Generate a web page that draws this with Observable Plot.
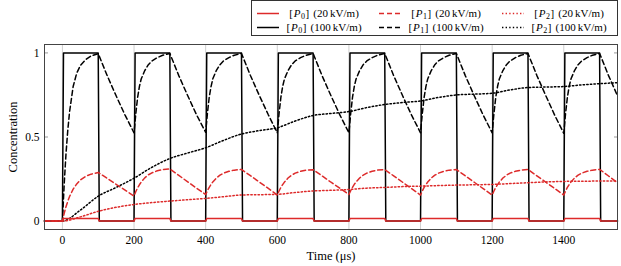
<!DOCTYPE html>
<html>
<head>
<meta charset="utf-8">
<script src="https://cdn.jsdelivr.net/npm/d3@7"></script>
<script src="https://cdn.jsdelivr.net/npm/@observablehq/plot@0.6"></script>
<style>
  html, body { margin: 0; padding: 0; background: #fff; }
  #wrap { position: relative; width: 621px; height: 266px; overflow: hidden; font-family: "Liberation Serif", serif; }
  #chart { position: absolute; left: 0; top: 0; }
  #chart svg, #chart svg text { font-family: "Liberation Serif", serif !important; }
  #chart g[aria-label$="axis label"] text { font-size: 12.5px; }
  #legend { position: absolute; left: 251px; top: 0px; width: 365px; height: 34px; border: 1px solid #333; background: #fff; font-size: 11px; color: #000; }
  .item { position: absolute; white-space: nowrap; line-height: 12px; height: 12px; }
  .item svg { position: absolute; left: 0; top: 0; }
  .txt { position: absolute; top: 0; width: 80px; text-align: center; }
  .txt i { padding: 0 0.5px 0 1px; }
  .txt sub { font-size: 8px; vertical-align: -2px; line-height: 0; }
  .txt .br { padding-left: 0.5px; margin-right: 4px; }
</style>
</head>
<body>
<div id="wrap">
  <div id="chart"></div>
  <div id="legend"></div>
</div>
<script>
// ---- data ----
const xTicks = [0, 200, 400, 600, 800, 1000, 1200, 1400];
const yTicks = [0, 0.5, 1];
const yTickLabels = ["0", "0.5", "1"];

// [P0] square pulses
const tP0 = [-50, 0, 3, 100, 103, 200, 203, 300, 303, 400, 403, 500, 503, 600, 603, 700, 703,
             800, 803, 900, 903, 1000, 1003, 1100, 1103, 1200, 1203, 1300, 1303, 1400, 1403, 1500, 1503, 1550];
const p0High = [0, 0, 1, 1, 0, 0, 1, 1, 0, 0, 1, 1, 0, 0, 1, 1, 0,
                0, 1, 1, 0, 0, 1, 1, 0, 0, 1, 1, 0, 0, 1, 1, 0, 0];
const p0Low = [0, 0, 0.015, 0.015, 0, 0, 0.015, 0.015, 0, 0, 0.015, 0.015, 0, 0, 0.015, 0.015, 0,
               0, 0.015, 0.015, 0, 0, 0.015, 0.015, 0, 0, 0.015, 0.015, 0, 0, 0.015, 0.015, 0, 0];

// [P1]
const tP1 = [
  -50, 0, 5, 10, 15, 20, 30, 40, 50, 65, 80, 100, 125, 150, 175,
  200, 205, 210, 215, 220, 230, 240, 250, 265, 280, 300, 325, 350, 375,
  400, 405, 410, 415, 420, 430, 440, 450, 465, 480, 500, 525, 550, 575,
  600, 605, 610, 615, 620, 630, 640, 650, 665, 680, 700, 725, 750, 775,
  800, 805, 810, 815, 820, 830, 840, 850, 865, 880, 900, 925, 950, 975,
  1000, 1005, 1010, 1015, 1020, 1030, 1040, 1050, 1065, 1080, 1100, 1125, 1150, 1175,
  1200, 1205, 1210, 1215, 1220, 1230, 1240, 1250, 1265, 1280, 1300, 1325, 1350, 1375,
  1400, 1405, 1410, 1415, 1420, 1430, 1440, 1450, 1465, 1480, 1500, 1525, 1550
];
const p1High = [
  0, 0, 0.22, 0.40, 0.54, 0.65, 0.80, 0.88, 0.925, 0.96, 0.982, 0.996, 0.865, 0.745, 0.63,
  0.525, 0.64, 0.735, 0.80, 0.845, 0.895, 0.93, 0.952, 0.972, 0.986, 0.997, 0.865, 0.745, 0.63,
  0.528, 0.642, 0.737, 0.80, 0.846, 0.896, 0.93, 0.953, 0.972, 0.986, 0.997, 0.866, 0.746, 0.632,
  0.525, 0.64, 0.735, 0.80, 0.845, 0.895, 0.93, 0.952, 0.972, 0.986, 0.997, 0.865, 0.745, 0.63,
  0.525, 0.64, 0.735, 0.80, 0.845, 0.895, 0.93, 0.952, 0.972, 0.986, 0.997, 0.865, 0.745, 0.63,
  0.525, 0.64, 0.735, 0.80, 0.845, 0.895, 0.93, 0.952, 0.972, 0.986, 0.997, 0.865, 0.745, 0.63,
  0.525, 0.64, 0.735, 0.80, 0.845, 0.895, 0.93, 0.952, 0.972, 0.986, 0.997, 0.865, 0.745, 0.628,
  0.522, 0.64, 0.735, 0.80, 0.845, 0.895, 0.93, 0.952, 0.972, 0.986, 0.997, 0.865, 0.745
];
const p1Low = [
  0, 0, 0.046, 0.085, 0.118, 0.146, 0.19, 0.221, 0.244, 0.266, 0.279, 0.289, 0.254, 0.219, 0.184,
  0.149, 0.176, 0.198, 0.216, 0.232, 0.257, 0.275, 0.287, 0.299, 0.306, 0.31, 0.272, 0.233, 0.195,
  0.158, 0.181, 0.201, 0.218, 0.233, 0.256, 0.273, 0.285, 0.296, 0.303, 0.307, 0.27, 0.232, 0.194,
  0.155, 0.179, 0.2, 0.217, 0.232, 0.256, 0.273, 0.285, 0.296, 0.303, 0.306, 0.269, 0.231, 0.195,
  0.158, 0.181, 0.201, 0.218, 0.233, 0.256, 0.273, 0.285, 0.296, 0.303, 0.306, 0.269, 0.231, 0.193,
  0.155, 0.179, 0.2, 0.217, 0.232, 0.256, 0.273, 0.285, 0.296, 0.303, 0.307, 0.269, 0.231, 0.193,
  0.155, 0.179, 0.2, 0.217, 0.232, 0.256, 0.273, 0.285, 0.296, 0.303, 0.307, 0.269, 0.231, 0.193,
  0.155, 0.179, 0.2, 0.217, 0.232, 0.256, 0.273, 0.285, 0.296, 0.303, 0.308, 0.268, 0.228
];

// [P2]
const tP2 = [-50, 0, 50, 100, 150, 200, 250, 300, 350, 400, 450, 500, 550, 600, 650, 700, 750,
             800, 850, 900, 950, 1000, 1050, 1100, 1150, 1200, 1250, 1300, 1350, 1400, 1450, 1500, 1550];
const p2High = [0, 0, 0.065, 0.148, 0.20, 0.255, 0.32, 0.372, 0.405, 0.436, 0.48, 0.518, 0.538, 0.555, 0.595, 0.628, 0.64,
                0.651, 0.675, 0.693, 0.705, 0.714, 0.735, 0.75, 0.755, 0.76, 0.78, 0.794, 0.797, 0.80, 0.81, 0.817, 0.823];
const p2Low = [0, 0, 0.025, 0.058, 0.082, 0.099, 0.11, 0.119, 0.127, 0.135, 0.145, 0.155, 0.157, 0.159, 0.17, 0.179, 0.183,
               0.188, 0.196, 0.2, 0.205, 0.208, 0.211, 0.214, 0.216, 0.218, 0.223, 0.228, 0.233, 0.236, 0.237, 0.238, 0.238];

const seriesLabels = [
  {name: "0", field: "(20\u2009kV/m)"}, {name: "1", field: "(20\u2009kV/m)"}, {name: "2", field: "(20\u2009kV/m)"},
  {name: "0", field: "(100\u2009kV/m)"}, {name: "1", field: "(100\u2009kV/m)"}, {name: "2", field: "(100\u2009kV/m)"}
];

// ---- styles ----
const RED = "#dd2a2a";
const BLACK = "#000000";
const DASH = "5,3";
const DOT = "1.4,2.2";

const zip = (t, v) => t.map((x, i) => ({t: x, v: v[i]}));

const chart = Plot.plot({
  width: 621,
  height: 266,
  marginLeft: 44,
  marginRight: 4,
  marginTop: 44,
  marginBottom: 37,
  style: {fontFamily: "'Liberation Serif', serif", fontSize: "11.5px", background: "transparent", color: "#000"},
  x: {domain: [-50, 1550]},
  y: {domain: [-0.05, 1.05]},
  marks: [
    Plot.gridX(xTicks, {stroke: "#cfcfcf", strokeOpacity: 1, strokeWidth: 1}),
    Plot.axisX(xTicks, {tickSize: 0, tickPadding: 6, tickFormat: d => String(d), label: "Time (μs)", labelAnchor: "center", labelOffset: 30, labelArrow: "none", fill: "#000"}),
    Plot.axisY(yTicks, {tickSize: 0, tickPadding: 5, tickFormat: (d, i) => yTickLabels[i], label: "Concentration", labelAnchor: "center", labelOffset: 36, labelArrow: "none", fill: "#000"}),
    Plot.axisY(yTicks, {anchor: "left", tickSize: -4, text: null, label: null, stroke: "#999"}),
    Plot.axisY(yTicks, {anchor: "right", tickSize: -4, text: null, label: null, stroke: "#999"}),
    // black series first
    Plot.line(zip(tP2, p2High), {x: "t", y: "v", stroke: BLACK, strokeWidth: 1.5, strokeDasharray: DOT, curve: "monotone-x"}),
    Plot.line(zip(tP1, p1High), {x: "t", y: "v", stroke: BLACK, strokeWidth: 1.5, strokeDasharray: DASH}),
    Plot.line(zip(tP0, p0High), {x: "t", y: "v", stroke: BLACK, strokeWidth: 1.5}),
    // red series
    Plot.line(zip(tP2, p2Low), {x: "t", y: "v", stroke: RED, strokeWidth: 1.5, strokeDasharray: DOT, curve: "monotone-x"}),
    Plot.line(zip(tP1, p1Low), {x: "t", y: "v", stroke: RED, strokeWidth: 1.5, strokeDasharray: DASH}),
    Plot.line(zip(tP0, p0Low), {x: "t", y: "v", stroke: RED, strokeWidth: 1.5}),
    Plot.frame({stroke: "#444", strokeWidth: 1})
  ]
});
document.getElementById("chart").appendChild(chart);

// ---- legend ----
const legend = document.getElementById("legend");
const colX = [5, 127, 250];       // sample line start within box
const rowY = [6, 20];             // row top within box
const styles = [
  {color: RED, dash: null}, {color: RED, dash: DASH}, {color: RED, dash: DOT},
  {color: BLACK, dash: null}, {color: BLACK, dash: DASH}, {color: BLACK, dash: DOT}
];
seriesLabels.forEach((s, i) => {
  const col = i % 3, row = Math.floor(i / 3);
  const st = styles[i];
  const el = document.createElement("div");
  el.className = "item";
  el.style.left = colX[col] + "px";
  el.style.top = rowY[row] + "px";
  el.innerHTML =
    `<svg width="22" height="12"><line x1="0" x2="22" y1="6.5" y2="6.5" stroke="${st.color}" stroke-width="1.5" ${st.dash ? `stroke-dasharray="${st.dash}"` : ""}/></svg>` +
    `<span class="txt" style="left:27px">[<i>P</i><sub>${s.name}</sub><span class="br">]</span>${s.field}</span>`;
  legend.appendChild(el);
});
</script>
</body>
</html>
